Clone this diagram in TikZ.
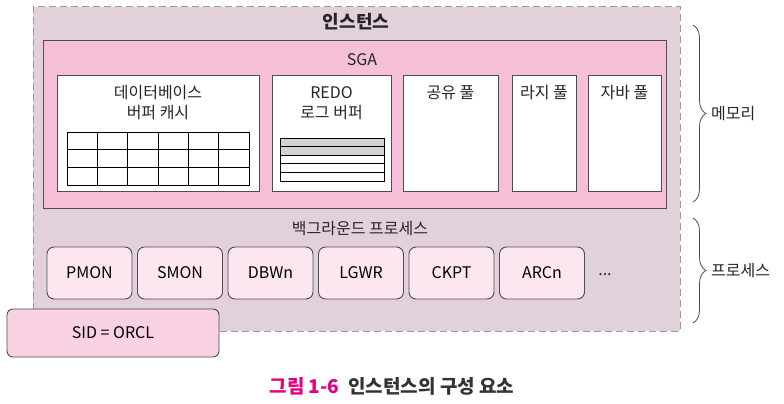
\documentclass[tikz,border=0pt]{standalone}
\usepackage{fontspec}
\setmainfont{Noto Sans CJK KR}
\usepackage{xcolor}
\definecolor{instfill}{HTML}{E2D1DA}
\definecolor{sgafill}{HTML}{F5BFD7}
\definecolor{procfill}{HTML}{FCE7F1}
\definecolor{sidfill}{HTML}{F8D1E3}
\definecolor{edgegray}{HTML}{4D4D4D}
\definecolor{dashgray}{HTML}{9A9A9A}
\definecolor{logrow}{HTML}{D2D2D2}
\definecolor{capmagenta}{HTML}{E4007F}
\definecolor{captext}{HTML}{333333}
\usepackage{tikz}
\usetikzlibrary{positioning,decorations.pathreplacing}

\begin{document}
\begin{tikzpicture}[
  x=1pt, y=-1pt,
  font=\fontsize{16}{20}\selectfont,
  inst/.style={draw=dashgray, fill=instfill, line width=1pt, dash pattern=on 7pt off 4pt,
               minimum width=647pt, minimum height=324pt, inner sep=0pt},
  pool/.style={draw=edgegray, line width=0.9pt, inner sep=0pt},
  sga/.style={pool, fill=sgafill, minimum width=623pt, minimum height=168pt},
  membox/.style={pool, fill=white, minimum height=116pt},
  proc/.style={pool, fill=procfill, rounded corners=7pt, minimum width=85pt, minimum height=52pt},
  sid/.style={proc, fill=sidfill, rounded corners=6pt, minimum width=212pt, minimum height=48pt},
  txt/.style={align=center, inner sep=0pt, text=black!85},
  brc/.style={decorate, decoration={brace, amplitude=13pt}, draw=edgegray, line width=0.8pt},
  brclab/.style={txt, anchor=west},
]
\useasboundingbox (0,0) rectangle (784,404);

% instance and SGA
\node[inst] (instance) at (356.5,169) {};
\node[txt, font=\fontsize{18}{22}\selectfont\bfseries] (insttitle) at (356,22) {인스턴스};
\node[sga] (sga) at (354.5,124) {};
\node[txt] (sgatitle) at (362,60) {SGA};

\node[membox, minimum width=202pt] (dbc)    at (158,133)   {};
\node[membox, minimum width=119pt] (redo)   at (331.5,133) {};
\node[membox, minimum width=95pt]  (shared) at (450.5,133) {};
\node[membox, minimum width=64pt]  (large)  at (544,133)   {};
\node[membox, minimum width=73pt]  (java)   at (624.5,133) {};

\node[txt] (dbctxt)    at (158,103)   {데이터베이스\\버퍼 캐시};
\node[txt] (redotxt)   at (331.5,103) {REDO\\로그 버퍼};
\node[txt] (sharedtxt) at (450.5,93)  {공유 풀};
\node[txt] (largetxt)  at (544,93)    {라지 풀};
\node[txt] (javatxt)   at (624.5,93)  {자바 풀};

% buffer cache blocks
\foreach \c in {0,...,5}
  \foreach \r in {0,1,2}
    \draw[black, line width=0.8pt] (67+30.33*\c,132+17.67*\r) rectangle ++(30.33,17.67);
% redo log entries
\foreach \r in {0,...,4}{
  \ifnum\r<2 \def\rowfill{logrow}\else\def\rowfill{white}\fi
  \draw[black, line width=0.8pt, fill=\rowfill] (280,138+8.6*\r) rectangle ++(104,8.6);
}

% background processes
\node[txt] (bgtitle) at (360,229) {백그라운드 프로세스};
\node[proc] (pmon) at (89.5,273)  {PMON};
\node[proc] (smon) at (180,273)   {SMON};
\node[proc] (dbwn) at (270.5,273) {DBWn};
\node[proc] (lgwr) at (361,273)   {LGWR};
\node[proc] (ckpt) at (451.5,273) {CKPT};
\node[proc] (arcn) at (542,273)   {ARCn};
\node[txt]  (more) at (605,275)   {...};

\node[sid] (sidbox) at (113,333) {SID = ORCL};

% braces
\coordinate (memtop) at (693,25);
\coordinate (membot) at (693,202);
\coordinate (proctop) at (693,218);
\coordinate (procbot) at (693,323);
\draw[brc] (memtop) -- (membot);
\draw[brc] (proctop) -- (procbot);
\node[brclab] (memlab)  at (711,113.5) {메모리};
\node[brclab] (proclab) at (711,270.5) {프로세스};

\node[txt, font=\fontsize{19}{22}\selectfont\bfseries] (caption) at (392,386)
  {\textcolor{capmagenta}{그림 1-6}\hspace{9pt}\textcolor{captext}{인스턴스의 구성 요소}};
\end{tikzpicture}
\end{document}
